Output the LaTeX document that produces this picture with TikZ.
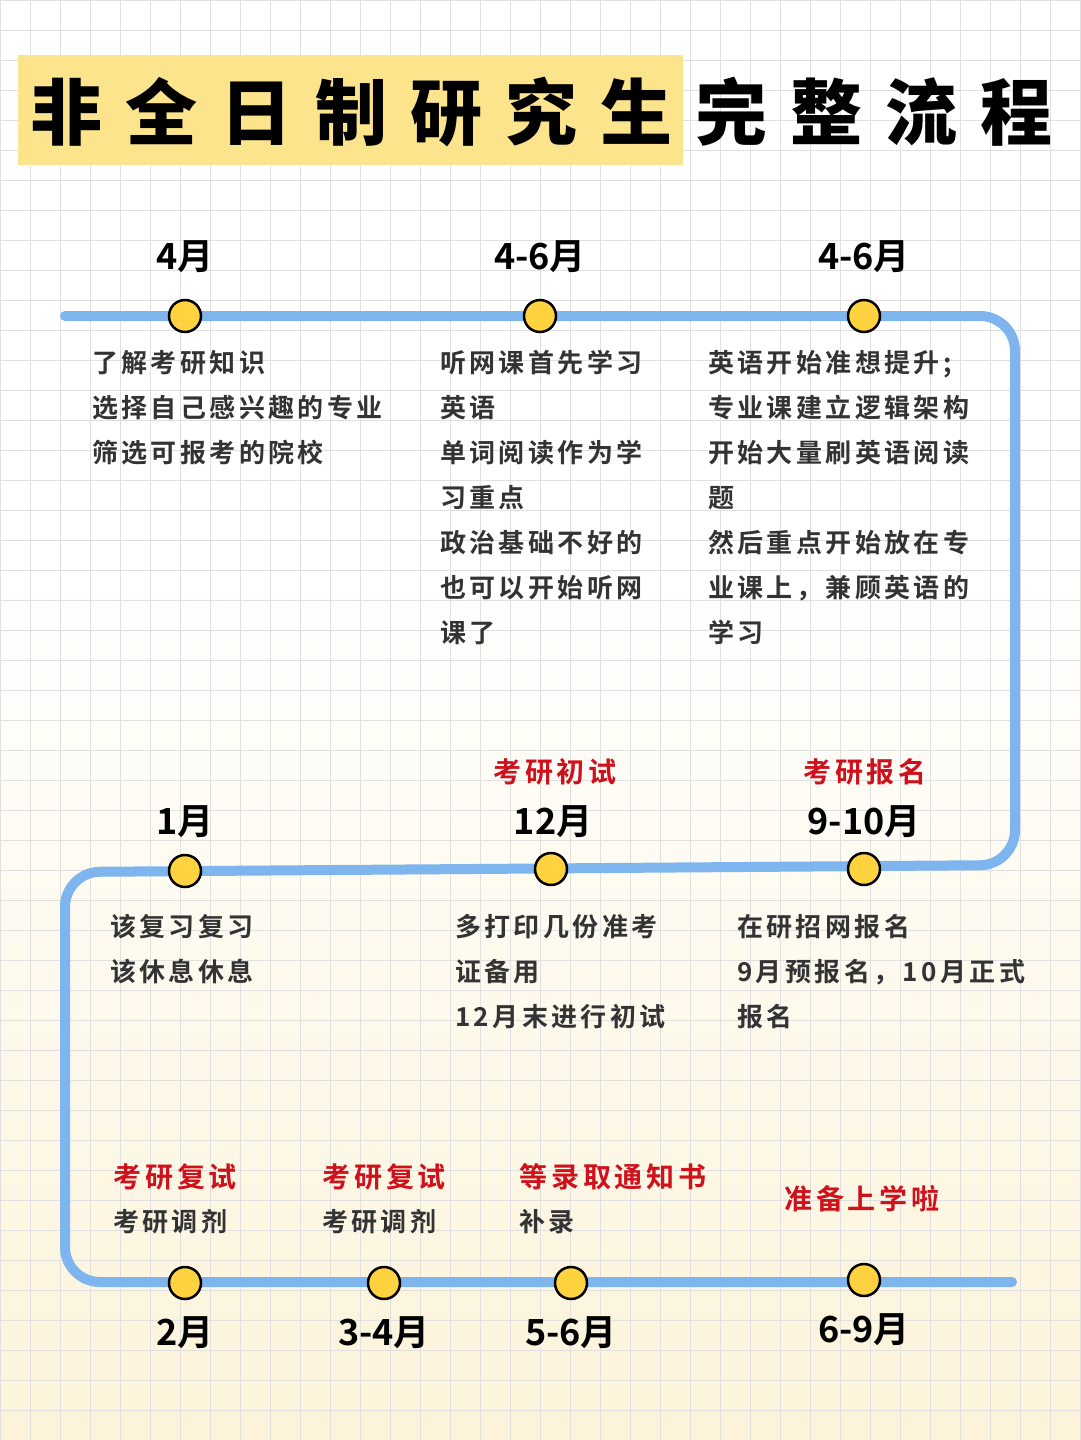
\documentclass[tikz,border=0pt]{standalone}
\usepackage{fontspec}
\setmainfont{Noto Sans CJK SC}
\newfontfamily\cjkb[LetterSpace=13]{Noto Sans CJK SC Bold}
\newfontfamily\cjkr[LetterSpace=14]{Noto Sans CJK SC Bold}
\newfontfamily\cjkt[LetterSpace=32]{Noto Sans CJK SC Black}
\newfontfamily\numf{Noto Sans CJK SC Bold}
\definecolor{lineblue}{HTML}{7FB5EE}
\definecolor{dotyel}{HTML}{FFD23F}
\definecolor{hl}{HTML}{FCE48C}
\definecolor{txt}{HTML}{333333}
\definecolor{redt}{HTML}{D0101B}
\definecolor{cream}{HTML}{FCF3D9}
\begin{document}
\begin{tikzpicture}[x=1pt,y=-1pt,
 dot/.style={circle,draw=black,line width=2.5pt,fill=dotyel,minimum size=32pt,inner sep=0pt},
 mon/.style={font=\numf\fontsize{36}{40}\selectfont,text=black},
 body/.style={anchor=north west,align=left,text=txt,font=\cjkb\fontsize{26}{45}\selectfont,inner sep=0pt},
 redl/.style={text=redt,font=\cjkr\fontsize{28}{36}\selectfont,inner sep=0pt}]
\useasboundingbox (0,0) rectangle (1080,1440);
\shade[top color=white,bottom color=cream] (0,560) rectangle (1080,1440);
\fill[white] (0,0) rectangle (1080,560);
\foreach \i in {0,30,...,1080} \draw[black!12,line width=0.8pt] (\i,0) -- (\i,1440);
\foreach \j in {0,30,...,1440} \draw[black!12,line width=0.8pt] (0,\j) -- (1080,\j);
\fill[hl] (18,55) rectangle (683,165);
\node[anchor=west,inner sep=0pt,font=\cjkt\fontsize{72}{80}\selectfont] (title) at (30,112) {非全日制研究生完整流程};
\draw[lineblue,line width=10pt,rounded corners=35pt,line cap=round]
 (65,316) -- (1015,316) -- (1015,865) -- (65,872) -- (65,1282) -- (1012,1282);
% row1
\node[dot] (d1) at (185,316) {}; \node[dot] (d2) at (540,316) {}; \node[dot] (d3) at (864,316) {};
\node[mon] at (185,257) {4月}; \node[mon] at (540,257) {4-6月}; \node[mon] at (864,257) {4-6月};
\node[body] at (92,350) {了解考研知识\\选择自己感兴趣的专业\\筛选可报考的院校};
\node[body] at (440,350) {听网课首先学习\\英语\\单词阅读作为学\\习重点\\政治基础不好的\\也可以开始听网\\课了};
\node[body] at (708,350) {英语开始准想提升;\\专业课建立逻辑架构\\开始大量刷英语阅读\\题\\然后重点开始放在专\\业课上，兼顾英语的\\学习};
% row2
\node[dot] (e1) at (185,871) {}; \node[dot] (e2) at (551,869) {}; \node[dot] (e3) at (864,869) {};
\node[mon] at (185,822) {1月}; \node[mon] at (553,822) {12月}; \node[mon] at (864,822) {9-10月};
\node[redl] at (555,772) {考研初试}; \node[redl] at (865,772) {考研报名};
\node[body] at (110,914) {该复习复习\\该休息休息};
\node[body] at (455,914) {多打印几份准考\\证备用\\12月末进行初试};
\node[body] at (737,914) {在研招网报名\\9月预报名，10月正式\\报名};
% row3
\node[dot] (f1) at (185,1283) {}; \node[dot] (f2) at (384,1283) {}; \node[dot] (f3) at (571,1283) {}; \node[dot] (f4) at (864,1280) {};
\node[mon] at (185,1333) {2月}; \node[mon] at (384,1333) {3-4月}; \node[mon] at (571,1333) {5-6月}; \node[mon] at (864,1330) {6-9月};
\node[redl,anchor=west] at (113,1177) {考研复试};
\node[body,anchor=west] at (113,1222) {考研调剂};
\node[redl,anchor=west] at (322,1177) {考研复试};
\node[body,anchor=west] at (322,1222) {考研调剂};
\node[redl,anchor=west] at (519,1177) {等录取通知书};
\node[body,anchor=west] at (519,1222) {补录};
\node[redl] at (862,1199) {准备上学啦};
\end{tikzpicture}
\end{document}
